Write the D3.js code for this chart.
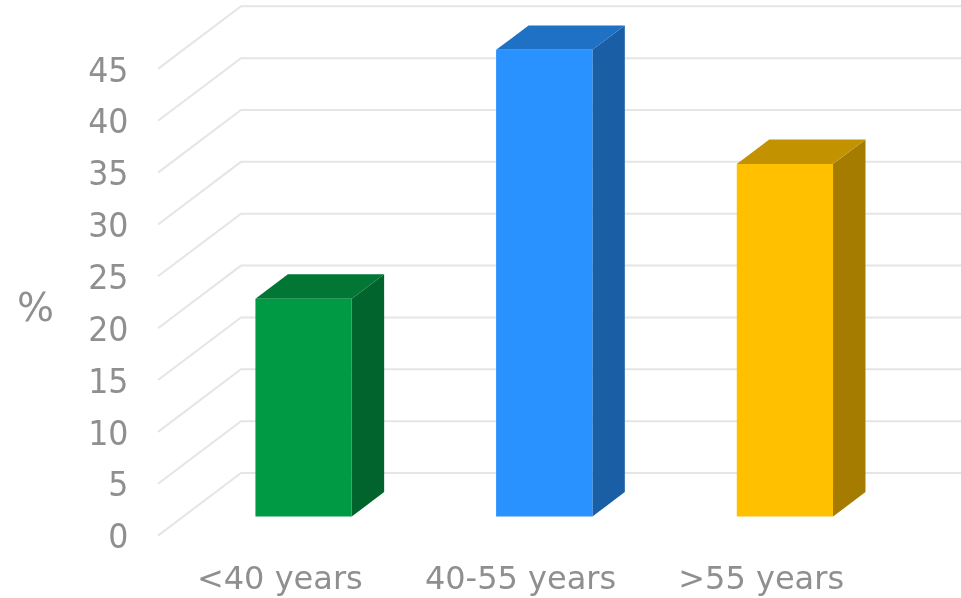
<!DOCTYPE html>
<html>
<head>
<meta charset="utf-8">
<script src="https://cdn.jsdelivr.net/npm/d3@7"></script>
<style>
html,body{margin:0;padding:0;background:#fff;overflow:hidden}
text{font-family:"DejaVu Sans",sans-serif;fill:#8f8f8f}
.labels{opacity:.999}
</style>
</head>
<body>
<svg id="c" width="961" height="598"></svg>
<script>
const categories = ["<40 years", "40-55 years", ">55 years"];
const values = [21, 45, 34];
const yTicks = [0, 5, 10, 15, 20, 25, 30, 35, 40, 45];
const frontColors = ["#009a44", "#2a92ff", "#ffc000"];
const topColors = ["#027635", "#1e71c4", "#c29200"];
const sideColors = ["#00642c", "#1a5fa6", "#a57c00"];
const yTitle = "%";

const W = 961, H = 598;
const svg = d3.select("#c");

// Back wall of the pseudo-3D plot
const x = d3.scaleBand().domain(categories).range([241, 963]).paddingInner(0.6).paddingOuter(0.3);
const y = d3.scaleLinear().domain([0, 45]).range([473, 6.3]);
// Depth: 0 = back wall, 1 = front of floor
const depthX = d3.scaleLinear().domain([0, 1]).range([0, -83]);
const depthY = d3.scaleLinear().domain([0, 1]).range([0, 62.6]);
const barFront = 0.696, barBack = 0.305;

const pt = (px, v, d) => [px + depthX(d), y(v) + depthY(d)];
const poly = pts => pts.map(p => p.map(n => n.toFixed(2)).join(",")).join(" ");

// Gridlines
svg.append("g").selectAll("polyline").data(yTicks).join("polyline")
  .attr("points", t => poly([pt(x.range()[0], t, 1), pt(x.range()[0], t, 0), [W + 2, y(t)]]))
  .attr("fill", "none").attr("stroke", "#e5e5e5").attr("stroke-width", 2);

// Bars
const bars = svg.append("g").selectAll("g").data(categories).join("g");
const bl = c => x(c), br = c => x(c) + x.bandwidth();
const val = i => values[i];
bars.append("polygon") // side
  .attr("fill", (c, i) => sideColors[i])
  .attr("points", (c, i) => poly([pt(br(c), 0, barFront), pt(br(c), 0, barBack), pt(br(c), val(i), barBack), pt(br(c), val(i), barFront)]));
bars.append("polygon") // top
  .attr("fill", (c, i) => topColors[i])
  .attr("points", (c, i) => poly([pt(bl(c), val(i), barFront), pt(bl(c), val(i), barBack), pt(br(c), val(i), barBack), pt(br(c), val(i), barFront)]));
bars.append("polygon") // front
  .attr("fill", (c, i) => frontColors[i])
  .attr("points", (c, i) => poly([pt(bl(c), 0, barFront), pt(br(c), 0, barFront), pt(br(c), val(i), barFront), pt(bl(c), val(i), barFront)]));

const labels = svg.append("g").attr("class", "labels");

// Y tick labels: taller than wide in the reference
const yLabelX = 128.5, yScaleX = 0.96;
labels.append("g").selectAll("text").data(yTicks).join("text")
  .attr("transform", t => `translate(${yLabelX},${pt(0, t, 1)[1] + 1.5}) scale(${yScaleX},1)`)
  .attr("text-anchor", "end").attr("dominant-baseline", "central")
  .attr("font-size", 33)
  .text(t => t);

// Category labels
labels.append("g").selectAll("text").data(categories).join("text")
  .attr("x", c => x(c) + x.bandwidth() / 2 + depthX(1) + 1.5)
  .attr("y", 578)
  .attr("text-anchor", "middle").attr("dominant-baseline", "central")
  .attr("font-size", 32)
  .text(c => c);

// Axis title
labels.append("text").attr("x", 35.5).attr("y", 307)
  .attr("text-anchor", "middle").attr("dominant-baseline", "central")
  .attr("font-size", 39).text(yTitle);
</script>
</body>
</html>
